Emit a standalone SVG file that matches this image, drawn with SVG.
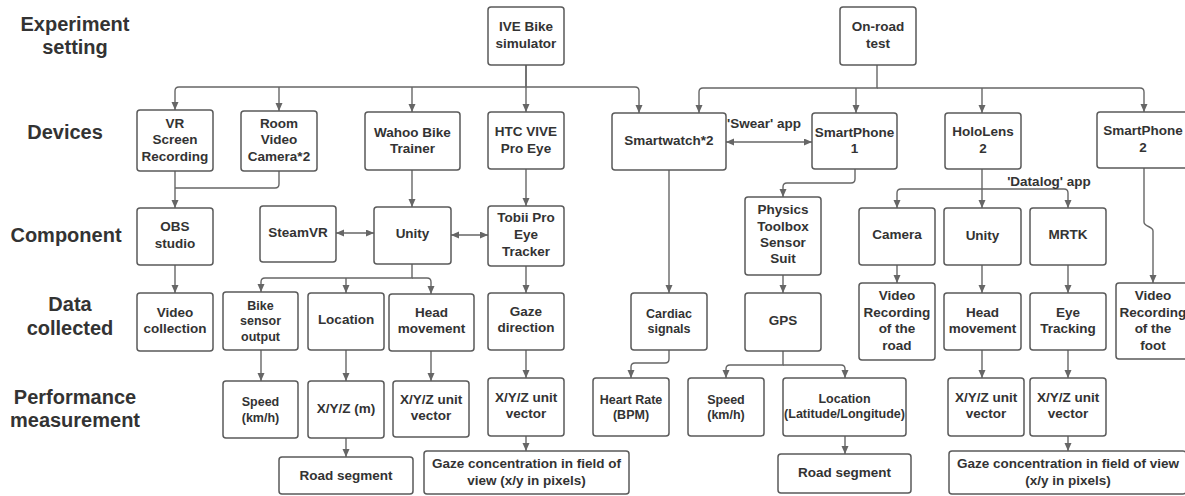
<svg xmlns="http://www.w3.org/2000/svg" width="1185" height="496" viewBox="0 0 1185 496">
<style>
.b{fill:#fff;stroke:#5a5a5a;stroke-width:1.5}
.t{font-family:"Liberation Sans",Arial,sans-serif;font-weight:bold;font-size:13.5px;fill:#333;text-anchor:middle}
.s{font-size:12.5px}
.h{font-family:"Liberation Sans",Arial,sans-serif;font-weight:bold;font-size:20px;fill:#333;text-anchor:middle}
.c{fill:none;stroke:#666;stroke-width:1.4;marker-end:url(#ah)}
.n{fill:none;stroke:#666;stroke-width:1.4}
.d{fill:none;stroke:#666;stroke-width:1.4;marker-end:url(#ah);marker-start:url(#ah)}
</style>
<defs>
<marker id="ah" markerUnits="userSpaceOnUse" markerWidth="9" markerHeight="8" refX="8" refY="3.5" orient="auto-start-reverse">
<path d="M0,0 L8,3.5 L0,7 z" fill="#666"/>
</marker>
</defs>
<rect width="1185" height="496" fill="#fff"/>

<g id="row-labels">
<text class="h" x="75" y="31">Experiment</text>
<text class="h" x="75" y="54">setting</text>
<text class="h" x="65" y="139">Devices</text>
<text class="h" x="66" y="242">Component</text>
<text class="h" x="70" y="311">Data</text>
<text class="h" x="70" y="335">collected</text>
<text class="h" x="75" y="404">Performance</text>
<text class="h" x="75" y="427">measurement</text>
</g>

<g id="connectors">
<path class="c" d="M526,65 V87 H179 Q175,87 175,91 V110"/>
<path class="c" d="M279,87 V111"/>
<path class="c" d="M412,87 V112"/>
<path class="c" d="M526,65 V112"/>
<path class="c" d="M526,87 H635 Q639,87 639,91 V113"/>
<path class="c" d="M877,65 V88 H703 Q699,88 699,92 V113"/>
<path class="c" d="M856,88 V113"/>
<path class="c" d="M982,88 V113"/>
<path class="c" d="M877,88 H1140 Q1144,88 1144,92 V112"/>
<path class="c" d="M175,171 V208"/>
<path class="n" d="M279,171 V184 Q279,188 275,188 H175"/>
<path class="c" d="M412,170 V207"/>
<path class="c" d="M526,169 V206"/>
<path class="d" d="M336,233 H374"/>
<path class="d" d="M451,235 H488"/>
<path class="c" d="M412,264 V278 H265 Q261,278 261,282 V292"/>
<path class="c" d="M346,278 V293"/>
<path class="c" d="M412,278 H427 Q431,278 431,282 V294"/>
<path class="c" d="M175,265 V293"/>
<path class="c" d="M526,266 V293"/>
<path class="c" d="M669,170 V293"/>
<path class="d" d="M726,142 H812"/>
<path class="c" d="M855,169 V179 Q855,183 851,183 H787 Q783,183 783,187 V197"/>
<path class="c" d="M783,275 V293"/>
<path class="c" d="M982,169 V208"/>
<path class="c" d="M982,189 H901 Q897,189 897,193 V208"/>
<path class="c" d="M982,189 H1064 Q1068,189 1068,193 V208"/>
<path class="c" d="M1144,168 V222 C1144,227 1153,226 1153,231 V283"/>
<path class="c" d="M897,265 V283"/>
<path class="c" d="M982,265 V293"/>
<path class="c" d="M1068,265 V293"/>
<path class="c" d="M261,350 V381"/>
<path class="c" d="M346,350 V381"/>
<path class="c" d="M431,351 V381"/>
<path class="c" d="M526,350 V378"/>
<path class="c" d="M669,350 V359 Q669,363 665,363 H635 Q631,363 631,367 V378"/>
<path class="c" d="M783,351 V365 H730 Q726,365 726,369 V378"/>
<path class="c" d="M783,365 H841 Q845,365 845,369 V378"/>
<path class="c" d="M982,350 V378"/>
<path class="c" d="M1068,350 V378"/>
<path class="c" d="M346,438 V457"/>
<path class="c" d="M526,436 V451"/>
<path class="c" d="M845,436 V454"/>
<path class="c" d="M1068,436 V451"/>
<text class="t" x="764" y="128">'Swear' app</text>
<text class="t" x="1049" y="186">'Datalog' app</text>
</g>

<g id="ive"><rect class="b" x="488" y="7" width="76" height="58" rx="3"/><text class="t" x="526" y="31">IVE Bike</text><text class="t" x="526" y="47.5">simulator</text></g>
<g id="onroad"><rect class="b" x="840" y="7" width="76" height="58" rx="3"/><text class="t" x="878" y="31">On-road</text><text class="t" x="878" y="47.5">test</text></g>

<g id="vr"><rect class="b" x="137" y="110" width="76" height="61" rx="3"/><text class="t" x="175" y="127.5">VR</text><text class="t" x="175" y="144">Screen</text><text class="t" x="175" y="160.5">Recording</text></g>
<g id="room"><rect class="b" x="241" y="111" width="76" height="60" rx="3"/><text class="t" x="279" y="127.5">Room</text><text class="t" x="279" y="144">Video</text><text class="t" x="279" y="160.5">Camera*2</text></g>
<g id="wahoo"><rect class="b" x="365" y="112" width="95" height="58" rx="3"/><text class="t" x="412.5" y="137">Wahoo Bike</text><text class="t" x="412.5" y="153">Trainer</text></g>
<g id="htc"><rect class="b" x="488" y="112" width="76" height="57" rx="3"/><text class="t" x="526" y="136">HTC VIVE</text><text class="t" x="526" y="152.5">Pro Eye</text></g>
<g id="smartwatch"><rect class="b" x="612" y="113" width="114" height="57" rx="3"/><text class="t" x="669" y="145">Smartwatch*2</text></g>
<g id="smartphone1"><rect class="b" x="812" y="113" width="85" height="56" rx="3"/><text class="t" x="854.5" y="137">SmartPhone</text><text class="t" x="854.5" y="153">1</text></g>
<g id="hololens"><rect class="b" x="945" y="113" width="76" height="56" rx="3"/><text class="t" x="983" y="135.5">HoloLens</text><text class="t" x="983" y="152.5">2</text></g>
<g id="smartphone2"><rect class="b" x="1097" y="112" width="100" height="56" rx="3"/><text class="t" x="1143" y="135">SmartPhone</text><text class="t" x="1143" y="151.5">2</text></g>

<g id="obs"><rect class="b" x="137" y="208" width="76" height="57" rx="3"/><text class="t" x="175" y="231">OBS</text><text class="t" x="175" y="247.5">studio</text></g>
<g id="steamvr"><rect class="b" x="260" y="206" width="76" height="56" rx="3"/><text class="t" x="298" y="237">SteamVR</text></g>
<g id="unity"><rect class="b" x="374" y="207" width="77" height="57" rx="3"/><text class="t" x="412.5" y="238">Unity</text></g>
<g id="tobii"><rect class="b" x="488" y="206" width="76" height="60" rx="3"/><text class="t" x="526" y="222">Tobii Pro</text><text class="t" x="526" y="239">Eye</text><text class="t" x="526" y="255.5">Tracker</text></g>
<g id="physics"><rect class="b" x="745" y="197" width="76" height="78" rx="3"/><text class="t" x="783" y="214">Physics</text><text class="t" x="783" y="231">Toolbox</text><text class="t" x="783" y="247">Sensor</text><text class="t" x="783" y="263">Suit</text></g>
<g id="camera"><rect class="b" x="859" y="208" width="76" height="57" rx="3"/><text class="t" x="897" y="239">Camera</text></g>
<g id="unity-hl"><rect class="b" x="944" y="208" width="77" height="57" rx="3"/><text class="t" x="982.5" y="239.5">Unity</text></g>
<g id="mrtk"><rect class="b" x="1030" y="208" width="76" height="57" rx="3"/><text class="t" x="1068" y="239">MRTK</text></g>

<g id="video-collection"><rect class="b" x="137" y="293" width="76" height="58" rx="3"/><text class="t" x="175" y="316.5">Video</text><text class="t" x="175" y="332.5">collection</text></g>
<g id="bike-sensor"><rect class="b" x="223" y="292" width="75" height="58" rx="3"/><text class="t s" x="260.5" y="309.5">Bike</text><text class="t s" x="260.5" y="324.5">sensor</text><text class="t s" x="260.5" y="340.5">output</text></g>
<g id="location"><rect class="b" x="308" y="293" width="76" height="57" rx="3"/><text class="t" x="346" y="324">Location</text></g>
<g id="head-movement"><rect class="b" x="389" y="294" width="85" height="57" rx="3"/><text class="t" x="431.5" y="317">Head</text><text class="t" x="431.5" y="333">movement</text></g>
<g id="gaze-direction"><rect class="b" x="488" y="293" width="76" height="57" rx="3"/><text class="t" x="526" y="316">Gaze</text><text class="t" x="526" y="331.5">direction</text></g>
<g id="cardiac"><rect class="b" x="631" y="293" width="76" height="57" rx="3"/><text class="t s" x="669" y="318">Cardiac</text><text class="t s" x="669" y="333">signals</text></g>
<g id="gps"><rect class="b" x="745" y="293" width="76" height="58" rx="3"/><text class="t" x="783" y="325">GPS</text></g>
<g id="video-road"><rect class="b" x="859" y="283" width="76" height="77" rx="3"/><text class="t" x="897" y="300">Video</text><text class="t" x="897" y="316.5">Recording</text><text class="t" x="897" y="332.5">of the</text><text class="t" x="897" y="349.5">road</text></g>
<g id="head-movement-hl"><rect class="b" x="944" y="293" width="77" height="57" rx="3"/><text class="t" x="982.5" y="316.5">Head</text><text class="t" x="982.5" y="332.5">movement</text></g>
<g id="eye-tracking"><rect class="b" x="1030" y="293" width="76" height="57" rx="3"/><text class="t" x="1068" y="316.5">Eye</text><text class="t" x="1068" y="332.5">Tracking</text></g>
<g id="video-foot"><rect class="b" x="1116" y="283" width="90" height="76" rx="3"/><text class="t" x="1153" y="300">Video</text><text class="t" x="1153" y="316.5">Recording</text><text class="t" x="1153" y="332.5">of the</text><text class="t" x="1153" y="349.5">foot</text></g>

<g id="speed-bike"><rect class="b" x="223" y="381" width="75" height="57" rx="3"/><text class="t s" x="260.5" y="405.5">Speed</text><text class="t s" x="260.5" y="422">(km/h)</text></g>
<g id="xyz-m"><rect class="b" x="308" y="381" width="76" height="57" rx="3"/><text class="t" x="346" y="412.5">X/Y/Z (m)</text></g>
<g id="xyz-head"><rect class="b" x="393" y="381" width="76" height="56" rx="3"/><text class="t" x="431" y="404">X/Y/Z unit</text><text class="t" x="431" y="420">vector</text></g>
<g id="xyz-gaze"><rect class="b" x="488" y="378" width="76" height="58" rx="3"/><text class="t" x="526" y="401.5">X/Y/Z unit</text><text class="t" x="526" y="417.5">vector</text></g>
<g id="heart-rate"><rect class="b" x="593" y="378" width="76" height="58" rx="3"/><text class="t s" x="631" y="403.5">Heart Rate</text><text class="t s" x="631" y="418.5">(BPM)</text></g>
<g id="speed-gps"><rect class="b" x="688" y="378" width="76" height="58" rx="3"/><text class="t s" x="726" y="403.5">Speed</text><text class="t s" x="726" y="418.5">(km/h)</text></g>
<g id="location-latlong"><rect class="b" x="783" y="378" width="123" height="58" rx="3"/><text class="t s" x="844.5" y="402.5">Location</text><text class="t s" x="844.5" y="417.5">(Latitude/Longitude)</text></g>
<g id="xyz-head-hl"><rect class="b" x="948" y="378" width="76" height="58" rx="3"/><text class="t" x="986" y="401.5">X/Y/Z unit</text><text class="t" x="986" y="417.5">vector</text></g>
<g id="xyz-eye"><rect class="b" x="1030" y="378" width="76" height="58" rx="3"/><text class="t" x="1068" y="401.5">X/Y/Z unit</text><text class="t" x="1068" y="417.5">vector</text></g>

<g id="road-segment-1"><rect class="b" x="279" y="457" width="134" height="37" rx="3"/><text class="t" x="346" y="480">Road segment</text></g>
<g id="gaze-conc-1"><rect class="b" x="424" y="451" width="205" height="43" rx="3"/><text class="t" x="526.5" y="468">Gaze concentration in field of</text><text class="t" x="526.5" y="485">view (x/y in pixels)</text></g>
<g id="road-segment-2"><rect class="b" x="778" y="454" width="133" height="39" rx="3"/><text class="t" x="844.5" y="476.5">Road segment</text></g>
<g id="gaze-conc-2"><rect class="b" x="949" y="451" width="237" height="43" rx="3"/><text class="t" x="1068" y="468">Gaze concentration in field of view</text><text class="t" x="1068" y="485">(x/y in pixels)</text></g>
</svg>
